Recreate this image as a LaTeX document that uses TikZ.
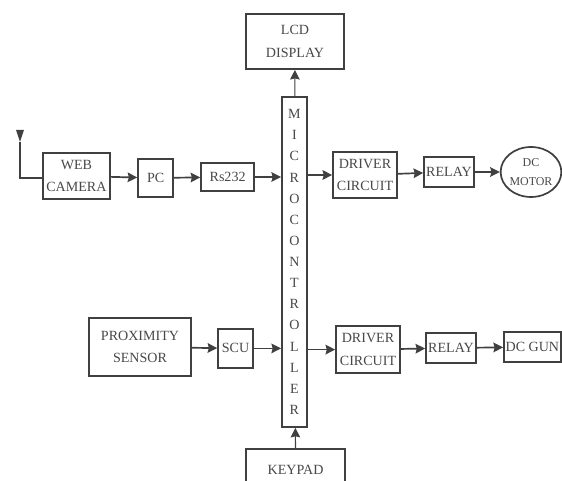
\documentclass[tikz,border=0pt]{standalone}
\usepackage{fontspec}
\setmainfont{Liberation Serif}
\usetikzlibrary{arrows.meta,positioning,shapes.geometric}
\definecolor{dline}{HTML}{404040}
\definecolor{dtext}{HTML}{484848}
\tikzset{
  >={Stealth[length=2.4mm,width=2.4mm,inset=0.3mm]},
  dblock/.style={rectangle, draw=dline, line width=1.2pt, inner sep=0pt, align=center,
                 text=dtext, font=\fontsize{10}{16}\selectfont},
  dmotor/.style={ellipse, draw=dline, line width=1.2pt, inner sep=0pt, align=center,
                 text=dtext, font=\fontsize{8.5}{13.5}\selectfont},
  dlink/.style={->, dline, line width=1.2pt},
}
\begin{document}
\begin{tikzpicture}[x=1cm,y=1cm]
  \useasboundingbox (0,0) rectangle (14.05,12);

  % central block
  \node[dblock, minimum width=0.625cm, minimum height=8.25cm, font=\fontsize{10}{15.03}\selectfont] (MCU) at (7.36,5.45)
       {M\\I\\C\\R\\O\\C\\O\\N\\T\\R\\O\\L\\L\\E\\R};
  \node[dblock, minimum width=2.45cm, minimum height=1.375cm] (LCD) at (7.375,10.96) {LCD\\DISPLAY};
  \node[dblock, minimum width=2.475cm, minimum height=1.025cm] (KEY) at (7.39,0.26) {KEYPAD};

  % upper row
  \node[dblock, minimum width=1.675cm, minimum height=1.15cm] (CAM) at (1.91,7.6) {WEB\\CAMERA};
  \node[dblock, minimum width=0.875cm, minimum height=0.95cm] (PC) at (3.89,7.55) {PC};
  \node[dblock, minimum width=1.325cm, minimum height=0.7cm] (RS) at (5.69,7.575) {Rs232};
  \node[dblock, minimum width=1.6cm, minimum height=1.15cm] (DRVA) at (9.125,7.625) {DRIVER\\CIRCUIT};
  \node[dblock, minimum width=1.25cm, minimum height=0.75cm] (RELA) at (11.225,7.7) {RELAY};
  \node[dmotor, minimum width=1.45cm, minimum height=1.25cm] (MOT) at (13.275,7.7) {DC\\MOTOR};

  % lower row
  \node[dblock, minimum width=2.55cm, minimum height=1.45cm] (PROX) at (3.5,3.325) {PROXIMITY\\SENSOR};
  \node[dblock, minimum width=0.875cm, minimum height=0.975cm] (SCU) at (5.89,3.29) {SCU};
  \node[dblock, minimum width=1.6cm, minimum height=1.175cm] (DRVB) at (9.2,3.26) {DRIVER\\CIRCUIT};
  \node[dblock, minimum width=1.25cm, minimum height=0.75cm] (RELB) at (11.275,3.3) {RELAY};
  \node[dblock, minimum width=1.425cm, minimum height=0.75cm] (GUN) at (13.31,3.325) {DC GUN};

  % antenna
  \coordinate (ANT) at (0.5,8.45);
  \draw[dline, line width=1.2pt] ([yshift=-0.05cm]CAM.west) -| (ANT);
  \fill[dline] (ANT) -- ++(-0.1,0.3) -- ++(0.2,0) -- cycle;

  \draw[dlink] (CAM) -- (PC);
  \draw[dlink] (PC) -- (RS);
  \draw[dlink] (RS.east) -- (RS.east -| MCU.west);
  \draw[dlink] (DRVA.west -| MCU.east) -- (DRVA.west);
  \draw[dlink] (DRVA) -- (RELA);
  \draw[dlink] (RELA) -- (MOT);

  \draw[dlink] (PROX) -- (SCU);
  \draw[dlink] (SCU.east) -- (SCU.east -| MCU.west);
  \draw[dlink] (DRVB.west -| MCU.east) -- (DRVB.west);
  \draw[dlink] (DRVB) -- (RELB);
  \draw[dlink] (RELB) -- (GUN);

  \draw[dlink, line width=0.8pt] (MCU) -- (LCD);
  \draw[dlink, line width=0.8pt] (KEY) -- (MCU);

\end{tikzpicture}
\end{document}
